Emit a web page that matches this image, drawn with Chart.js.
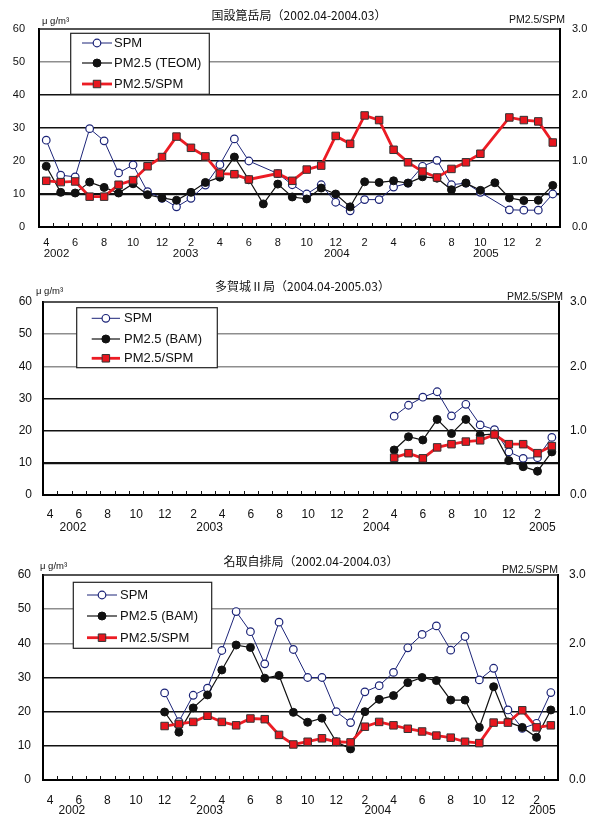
<!DOCTYPE html>
<html>
<head>
<meta charset="utf-8">
<script src="https://cdn.jsdelivr.net/npm/chart.js@4/dist/chart.umd.min.js"></script>
<style>
  html, body { margin: 0; padding: 0; background: #fff; }
  #wrap { position: relative; width: 595px; height: 818px; }
  canvas { position: absolute; left: 0; }
</style>
</head>
<body>
<div id="wrap">
  <canvas id="p1" width="595" height="268" style="top:0"></canvas>
  <canvas id="p2" width="595" height="268" style="top:268px"></canvas>
  <canvas id="p3" width="595" height="282" style="top:536px"></canvas>
</div>
<script>
// Monthly categories, April 2002 to March 2005
const months = [
  '2002.04','2002.05','2002.06','2002.07','2002.08','2002.09','2002.10','2002.11','2002.12',
  '2003.01','2003.02','2003.03','2003.04','2003.05','2003.06','2003.07','2003.08','2003.09',
  '2003.10','2003.11','2003.12','2004.01','2004.02','2004.03','2004.04','2004.05','2004.06',
  '2004.07','2004.08','2004.09','2004.10','2004.11','2004.12','2005.01','2005.02','2005.03'
];
const monthTicks = [
  '4','','6','','8','','10','','12','','2','',
  '4','','6','','8','','10','','12','','2','',
  '4','','6','','8','','10','','12','','2',''
];
const yearLabels = ['2002','2003','2004','2005'];

// 国設箟岳局 (µg/m3 and ratio)
const spmNonodake = [26.3,15.7,15.2,29.8,26.1,16.4,18.8,10.7,8.7,6.1,8.7,12.7,
                     18.9,26.7,20.0,null,16.2,12.8,10.0,12.8,7.5,4.9,8.3,8.3,
                     12.1,13.3,18.4,20.2,12.8,13.3,10.5,null,5.2,5.1,5.1,10.0];
const pm25Nonodake = [18.4,10.5,10.3,13.6,12.0,10.3,13.1,9.8,8.8,8.1,10.5,13.5,
                      15.1,21.2,14.3,7.0,13.0,9.1,8.5,11.8,10.0,6.1,13.7,13.5,
                      14.0,13.3,15.2,14.8,11.3,13.3,11.1,13.4,8.8,8.0,8.1,12.6];
const ratioNonodake = [0.70,0.68,0.69,0.46,0.46,0.64,0.71,0.92,1.06,1.37,1.20,1.07,
                       0.81,0.80,0.72,null,0.81,0.70,0.87,0.93,1.38,1.26,1.69,1.62,
                       1.17,0.98,0.84,0.75,0.88,0.98,1.11,null,1.66,1.62,1.60,1.28];

// 多賀城Ⅱ局
const spmTagajo = [null,null,null,null,null,null,null,null,null,null,null,null,
                   null,null,null,null,null,null,null,null,null,null,null,null,
                   24.5,27.9,30.4,32.1,24.6,28.2,21.8,20.3,13.4,11.4,11.6,17.9];
const pm25Tagajo = [null,null,null,null,null,null,null,null,null,null,null,null,
                    null,null,null,null,null,null,null,null,null,null,null,null,
                    14.0,18.1,17.1,23.5,19.1,23.5,18.6,19.0,10.7,8.8,7.4,13.4];
const ratioTagajo = [null,null,null,null,null,null,null,null,null,null,null,null,
                     null,null,null,null,null,null,null,null,null,null,null,null,
                     0.58,0.65,0.57,0.74,0.79,0.83,0.85,0.94,0.79,0.79,0.65,0.76];

// 名取自排局
const spmNatori = [null,null,null,null,null,null,null,null,25.5,17.1,24.8,26.9,
                   37.9,49.3,43.4,34.0,46.2,38.2,30.0,30.0,20.0,16.8,25.8,27.6,
                   31.5,38.7,42.6,45.1,38.0,42.0,29.3,32.7,20.5,15.1,16.6,25.6];
const pm25Natori = [null,null,null,null,null,null,null,null,19.9,14.0,21.1,24.9,
                    32.2,39.5,38.8,29.8,30.6,19.8,16.9,18.1,11.2,9.1,20.0,23.6,
                    24.7,28.5,30.0,29.1,23.4,23.4,15.4,27.3,17.0,15.4,12.5,20.5];
const ratioNatori = [null,null,null,null,null,null,null,null,0.79,0.82,0.85,0.94,
                     0.85,0.80,0.90,0.89,0.66,0.52,0.56,0.61,0.56,0.55,0.78,0.85,
                     0.80,0.75,0.71,0.65,0.62,0.56,0.54,0.84,0.84,1.02,0.77,0.80];

const FONT = '"Liberation Sans", Arial, sans-serif';
const CJK = '"Noto Sans CJK JP", "Liberation Sans", sans-serif';

// Decorations: frame, inner month ticks, titles, units, years and the boxed legend
const decoPlugin = {
  id: 'deco',
  afterDraw(chart, args, o) {
    const ctx = chart.ctx;
    const a = chart.chartArea;
    const xs = chart.scales.x;
    const n = chart.data.labels.length;
    ctx.save();

    // top frame line
    ctx.strokeStyle = '#1a1a1a';
    ctx.lineWidth = 1.4;
    ctx.beginPath(); ctx.moveTo(a.left, a.top); ctx.lineTo(a.right, a.top); ctx.stroke();

    // short inward ticks between months
    ctx.lineWidth = 1;
    ctx.strokeStyle = '#111';
    for (let i = 1; i < n; i++) {
      const px = Math.round((xs.getPixelForValue(i - 1) + xs.getPixelForValue(i)) / 2) + 0.5;
      ctx.beginPath(); ctx.moveTo(px, a.bottom); ctx.lineTo(px, a.bottom - 4); ctx.stroke();
    }

    // title
    ctx.fillStyle = '#111';
    ctx.font = '12px ' + CJK;
    ctx.textAlign = 'center';
    ctx.textBaseline = 'middle';
    ctx.fillText(o.title, o.titleX, o.titleY);

    // unit labels
    ctx.font = '9.5px ' + FONT;
    ctx.textAlign = 'left';
    ctx.fillText('\u03bc g/m\u00b3', o.unitX, o.unitY);
    ctx.font = '10.5px ' + FONT;
    ctx.textAlign = 'right';
    ctx.fillText('PM2.5/SPM', o.ratioTitleX, o.ratioTitleY);

    // year labels under the month ticks
    ctx.font = o.tickSize + 'px ' + FONT;
    ctx.textAlign = 'center';
    const cw = (a.right - a.left) / n;
    yearLabels.forEach((t, k) => {
      ctx.fillText(t, a.left + (o.yearPos[k] + 0.5) * cw, a.bottom + o.yearDy);
    });

    // legend box
    const b = o.legendBox;
    ctx.fillStyle = '#fff';
    ctx.fillRect(b[0], b[1], b[2] - b[0], b[3] - b[1]);
    ctx.strokeStyle = '#222';
    ctx.lineWidth = 1.2;
    ctx.strokeRect(b[0], b[1], b[2] - b[0], b[3] - b[1]);
    ctx.font = '13px ' + FONT;
    ctx.textAlign = 'left';
    ctx.textBaseline = 'middle';
    chart.data.datasets.forEach((ds, k) => {
      const y = o.legendRows[k];
      ctx.strokeStyle = ds.borderColor;
      ctx.lineWidth = ds.borderWidth;
      ctx.beginPath(); ctx.moveTo(o.legendLine[0], y); ctx.lineTo(o.legendLine[1], y); ctx.stroke();
      ctx.fillStyle = ds.pointBackgroundColor;
      ctx.strokeStyle = ds.pointBorderColor;
      ctx.lineWidth = ds.pointBorderWidth;
      Chart.helpers.drawPoint(ctx, {
        pointStyle: ds.pointStyle, radius: ds.pointRadius, borderWidth: ds.pointBorderWidth, rotation: 0
      }, (o.legendLine[0] + o.legendLine[1]) / 2, y);
      ctx.fillStyle = '#111';
      ctx.fillText(ds.label, o.legendTextX, y + 0.5);
    });
    ctx.restore();
  }
};

function seriesSets(spm, pm25, ratio, pmLabel) {
  return [
    {
      label: 'SPM', data: spm, yAxisID: 'y', order: 3,
      borderColor: '#1c2478', borderWidth: 1, pointStyle: 'circle', pointRadius: 3.8,
      pointBackgroundColor: '#ffffff', pointBorderColor: '#1c2478', pointBorderWidth: 1.2,
      spanGaps: true, tension: 0
    },
    {
      label: pmLabel, data: pm25, yAxisID: 'y', order: 2,
      borderColor: '#111111', borderWidth: 1.2, pointStyle: 'circle', pointRadius: 4,
      pointBackgroundColor: '#111111', pointBorderColor: '#111111', pointBorderWidth: 1,
      spanGaps: true, tension: 0
    },
    {
      label: 'PM2.5/SPM', data: ratio, yAxisID: 'y2', order: 1,
      borderColor: '#ec1c24', borderWidth: 2.8, pointStyle: 'rect', pointRadius: 5.3,
      pointBackgroundColor: '#e8161e', pointBorderColor: '#333333', pointBorderWidth: 1,
      spanGaps: true, tension: 0
    }
  ];
}

function makePanel(id, datasets, p) {
  const H = document.getElementById(id).height;
  const gridStyle = (v) => p.grid[v] || ['rgba(0,0,0,0)', 0];
  return new Chart(document.getElementById(id), {
    type: 'line',
    data: { labels: months, datasets },
    options: {
      responsive: false,
      animation: false,
      devicePixelRatio: 1,
      layout: { padding: { top: p.top, left: 0, right: 0, bottom: 0 } },
      plugins: {
        legend: { display: false },
        tooltip: { enabled: false },
        deco: p.deco
      },
      scales: {
        x: {
          type: 'category',
          offset: true,
          grid: { display: false, drawTicks: false },
          border: { display: true, color: '#000', width: 2 },
          ticks: {
            autoSkip: false, maxRotation: 0, minRotation: 0,
            padding: p.xPad, color: '#111',
            font: { family: FONT, size: p.tickSize },
            callback: (v, i) => monthTicks[i]
          },
          afterFit: (s) => { s.height = H - p.bottom; }
        },
        y: {
          position: 'left', min: 0, max: 60,
          ticks: { stepSize: 10, padding: p.yPad, color: '#111', font: { family: FONT, size: p.tickSize } },
          grid: {
            drawTicks: false,
            color: (c) => gridStyle(c.tick.value)[0],
            lineWidth: (c) => gridStyle(c.tick.value)[1]
          },
          border: { display: true, color: '#000', width: 2 },
          afterFit: (s) => { s.width = p.left; }
        },
        y2: {
          position: 'right', min: 0, max: 3,
          ticks: {
            stepSize: 1, padding: p.y2Pad, color: '#111', font: { family: FONT, size: p.tickSize },
            callback: (v) => Number(v).toFixed(1)
          },
          grid: { display: false, drawTicks: false },
          border: { display: true, color: '#000', width: 2 },
          afterFit: (s) => { s.width = 595 - p.right; }
        }
      }
    },
    plugins: [decoPlugin]
  });
}

const BLACK = '#111', GRAY = '#8e8e8e';

makePanel('p1', seriesSets(spmNonodake, pm25Nonodake, ratioNonodake, 'PM2.5 (TEOM)'), {
  top: 29, bottom: 227, left: 39, right: 560, tickSize: 11, xPad: 9, yPad: 14, y2Pad: 12,
  grid: { 10: [BLACK, 2.2], 20: [BLACK, 1.5], 30: [BLACK, 1.5], 40: [BLACK, 1.5], 50: [GRAY, 1.5] },
  deco: {
    title: '国設箟岳局（2002.04-2004.03）', titleX: 299, titleY: 15,
    unitX: 42, unitY: 21.5, ratioTitleX: 565, ratioTitleY: 20,
    tickSize: 11.5, yearPos: [0.71, 9.63, 20.08, 30.38], yearDy: 26.5,
    legendBox: [70.7, 33.3, 209.3, 94.3], legendRows: [43, 63, 84],
    legendLine: [82, 112], legendTextX: 114
  }
});

makePanel('p2', seriesSets(spmTagajo, pm25Tagajo, ratioTagajo, 'PM2.5 (BAM)'), {
  top: 34, bottom: 227, left: 43, right: 559, tickSize: 12, xPad: 12, yPad: 11, y2Pad: 11,
  grid: { 10: [BLACK, 2.2], 20: [BLACK, 1.5], 30: [BLACK, 1.5], 40: [GRAY, 1.5], 50: [GRAY, 1.5] },
  deco: {
    title: '多賀城Ⅱ局（2004.04-2005.03）', titleX: 302.5, titleY: 18.7,
    unitX: 36, unitY: 23, ratioTitleX: 563, ratioTitleY: 28.7,
    tickSize: 12, yearPos: [1.59, 11.12, 22.76, 34.34], yearDy: 33,
    legendBox: [76.7, 39.7, 217.3, 99.7], legendRows: [50.3, 71, 90.3],
    legendLine: [91.7, 120], legendTextX: 124
  }
});

makePanel('p3', seriesSets(spmNatori, pm25Natori, ratioNatori, 'PM2.5 (BAM)'), {
  top: 39, bottom: 244, left: 43, right: 558, tickSize: 12, xPad: 13, yPad: 12, y2Pad: 11,
  grid: { 10: [BLACK, 1.5], 20: [BLACK, 1.5], 30: [BLACK, 1.5], 40: [GRAY, 1.5], 50: [GRAY, 1.5] },
  deco: {
    title: '名取自排局（2002.04-2004.03）', titleX: 311, titleY: 25.7,
    unitX: 40, unitY: 30.5, ratioTitleX: 558, ratioTitleY: 34,
    tickSize: 12, yearPos: [1.52, 11.15, 22.9, 34.4], yearDy: 31,
    legendBox: [73.3, 46.3, 211.7, 112.3], legendRows: [59, 80, 101.7],
    legendLine: [87, 117], legendTextX: 120
  }
});
</script>
</body>
</html>
